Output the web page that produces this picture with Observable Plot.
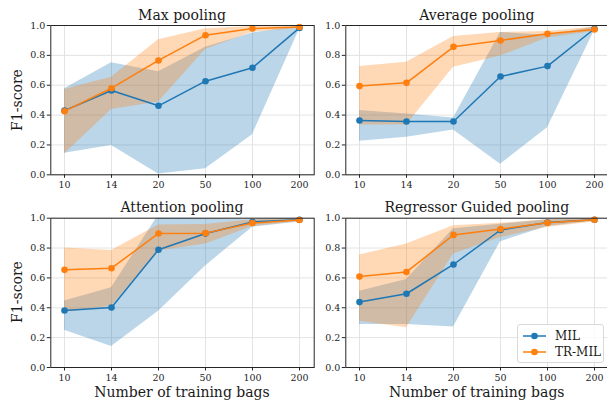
<!DOCTYPE html>
<html>
<head>
<meta charset="utf-8">
<script src="https://cdn.jsdelivr.net/npm/d3@7"></script>
<script src="https://cdn.jsdelivr.net/npm/@observablehq/plot@0.6"></script>
<style>
  html, body { margin: 0; padding: 0; background: #fff; overflow: hidden; }
  #fig { position: relative; width: 607px; height: 400px; overflow: hidden; font-family: "DejaVu Serif", "Liberation Serif", serif; color: #1a1a1a; }
  .panel { position: absolute; }
  .lbl { position: absolute; white-space: nowrap; font-size: 14px; transform: translate(-50%, -50%); }
  .ylbl { position: absolute; white-space: nowrap; font-size: 14px; transform: translate(-50%, -50%) rotate(-90deg); }
  #legend { position: absolute; left: 517px; top: 324px; width: 85px; height: 37px; border: 1px solid #d9d9d9; border-radius: 3px; background: rgba(255,255,255,0.8); font-size: 12px; }
  #legend .row { position: absolute; left: 0; height: 16px; display: flex; align-items: center; }
</style>
</head>
<body>
<div id="fig"></div>
<script>
// ---- data ----
const bags = ["10", "14", "20", "50", "100", "200"];
const titles = ["Max pooling", "Average pooling", "Attention pooling", "Regressor Guided pooling"];
const seriesNames = ["MIL", "TR-MIL"];
const yTicks = [0, 0.2, 0.4, 0.6, 0.8, 1.0];

// rows: Max, Average, Attention, Regressor Guided
const milMean = [
  [0.430, 0.565, 0.462, 0.627, 0.717, 0.984],
  [0.364, 0.357, 0.357, 0.658, 0.728, 0.978],
  [0.382, 0.402, 0.789, 0.897, 0.975, 0.990],
  [0.438, 0.494, 0.690, 0.921, 0.971, 0.990]
];
const milLow = [
  [0.145, 0.196, 0.005, 0.040, 0.268, 0.975],
  [0.225, 0.252, 0.300, 0.070, 0.315, 0.966],
  [0.250, 0.140, 0.377, 0.680, 0.940, 0.975],
  [0.288, 0.288, 0.272, 0.843, 0.945, 0.982]
];
const milHigh = [
  [0.576, 0.750, 0.690, 0.855, 0.950, 0.995],
  [0.430, 0.408, 0.380, 0.953, 0.935, 0.990],
  [0.445, 0.535, 1.020, 0.995, 0.990, 1.000],
  [0.510, 0.590, 0.930, 0.960, 0.990, 0.998]
];
const trMean = [
  [0.426, 0.580, 0.766, 0.935, 0.980, 0.990],
  [0.594, 0.616, 0.857, 0.900, 0.944, 0.973],
  [0.654, 0.665, 0.898, 0.900, 0.968, 0.988],
  [0.609, 0.640, 0.888, 0.928, 0.969, 0.990]
];
const trLow = [
  [0.140, 0.437, 0.487, 0.840, 0.955, 0.980],
  [0.333, 0.333, 0.720, 0.795, 0.917, 0.960],
  [0.370, 0.410, 0.780, 0.827, 0.945, 0.978],
  [0.310, 0.267, 0.760, 0.870, 0.940, 0.975]
];
const trHigh = [
  [0.571, 0.654, 0.904, 0.978, 0.993, 1.000],
  [0.725, 0.754, 0.926, 0.953, 0.960, 0.990],
  [0.800, 0.784, 0.955, 0.957, 0.990, 0.998],
  [0.753, 0.827, 0.950, 0.966, 0.990, 1.000]
];
const colors = ["#1f77b4", "#ff7f0e"];

// ---- layout ----
const fig = document.getElementById("fig");
const panels = [
  {left: 0,   top: 0,   width: 320, height: 200, mt: 25,   mb: 25.7, ml: 50.3, mr: 6.3},
  {left: 320, top: 0,   width: 295, height: 200, mt: 25,   mb: 25.7, ml: 25.3, mr: 6.7},
  {left: 0,   top: 200, width: 320, height: 200, mt: 17.7, mb: 33,   ml: 50.3, mr: 6.3},
  {left: 320, top: 200, width: 295, height: 200, mt: 17.7, mb: 33,   ml: 25.3, mr: 6.7}
];

panels.forEach((p, i) => {
  const rows = bags.map((b, j) => ({
    bag: b,
    milMean: milMean[i][j], milLow: milLow[i][j], milHigh: milHigh[i][j],
    trMean: trMean[i][j], trLow: trLow[i][j], trHigh: trHigh[i][j]
  }));
  const chart = Plot.plot({
    width: p.width, height: p.height,
    marginTop: p.mt, marginBottom: p.mb, marginLeft: p.ml, marginRight: p.mr,
    style: {fontFamily: "'DejaVu Serif', 'Liberation Serif', serif", fontSize: "9.5px", color: "#262626", background: "transparent", overflow: "visible"},
    x: {type: "point", domain: bags, padding: 0.25},
    y: {domain: [0, 1]},
    marks: [
      Plot.gridX(bags, {stroke: "#e3e3e3", strokeOpacity: 1, strokeWidth: 1}),
      Plot.gridY(yTicks, {stroke: "#e3e3e3", strokeOpacity: 1, strokeWidth: 1}),
      Plot.areaY(rows, {x: "bag", y1: "milLow", y2: "milHigh", fill: colors[0], fillOpacity: 0.3, clip: true}),
      Plot.areaY(rows, {x: "bag", y1: "trLow", y2: "trHigh", fill: colors[1], fillOpacity: 0.3, clip: true}),
      Plot.lineY(rows, {x: "bag", y: "milMean", stroke: colors[0], strokeWidth: 1.5}),
      Plot.dot(rows, {x: "bag", y: "milMean", fill: colors[0], r: 3.3}),
      Plot.lineY(rows, {x: "bag", y: "trMean", stroke: colors[1], strokeWidth: 1.5}),
      Plot.dot(rows, {x: "bag", y: "trMean", fill: colors[1], r: 3.3}),
      Plot.frame({stroke: "#262626", strokeWidth: 1}),
      Plot.axisX({tickSize: 3.5, tickPadding: 3, label: null, stroke: "#262626"}),
      Plot.axisY({ticks: yTicks, tickFormat: d3.format(".1f"), tickSize: 3.5, tickPadding: 2, label: null, stroke: "#262626"})
    ]
  });
  chart.classList.add("panel");
  chart.style.left = p.left + "px";
  chart.style.top = p.top + "px";
  fig.appendChild(chart);

  const cx = p.left + p.ml + (p.width - p.ml - p.mr) / 2;
  const t = document.createElement("div");
  t.className = "lbl";
  t.textContent = titles[i];
  t.style.left = cx + "px";
  t.style.top = (i < 2 ? 15 : 207) + "px";
  fig.appendChild(t);

  if (i >= 2) {
    const xl = document.createElement("div");
    xl.className = "lbl";
    xl.textContent = "Number of training bags";
    xl.style.left = cx + "px";
    xl.style.top = "392px";
    fig.appendChild(xl);
  }
  if (i % 2 === 0) {
    const yl = document.createElement("div");
    yl.className = "ylbl";
    yl.textContent = "F1-score";
    yl.style.left = "17px";
    yl.style.top = (p.top + p.mt + (p.height - p.mt - p.mb) / 2) + "px";
    fig.appendChild(yl);
  }
});

// legend
const legend = document.createElement("div");
legend.id = "legend";
seriesNames.forEach((name, k) => {
  const row = document.createElement("div");
  row.className = "row";
  row.style.top = (3 + k * 16) + "px";
  row.innerHTML = `<svg width="34" height="16"><line x1="5" x2="28" y1="8" y2="8" stroke="${colors[k]}" stroke-width="1.5"/><circle cx="16.5" cy="8" r="3.3" fill="${colors[k]}"/></svg><span style="margin-left:3px">${name}</span>`;
  legend.appendChild(row);
});
fig.appendChild(legend);
</script>
</body>
</html>
